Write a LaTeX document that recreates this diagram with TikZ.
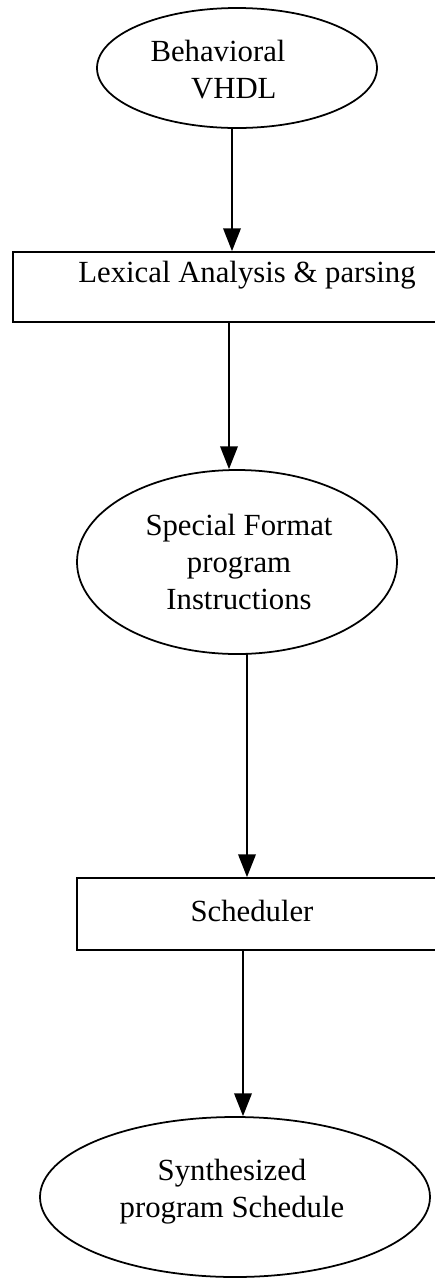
\documentclass[tikz,border=0pt]{standalone}
\usepackage{fontspec}
\setmainfont{Liberation Serif}
\usetikzlibrary{arrows.meta, shapes.geometric}

\tikzset{
  oval/.style={draw, line width=1pt, ellipse, inner sep=0pt},
  stagebox/.style={draw, line width=1pt, rectangle, inner sep=0pt},
  words/.style={align=center, inner sep=0pt},
  flow/.style={-{Triangle[length=13pt,width=10pt]}, line width=1pt}
}

\begin{document}
\begin{tikzpicture}[x=0.02cm, y=-0.02cm, font=\fontsize{17.5}{21}\selectfont]
  \clip (0,0) rectangle (435,1282);
  % ovals
  \node[oval, minimum width=280*0.02cm, minimum height=120*0.02cm] (vhdl) at (237,68) {};
  \node[words] (vhdltxt) at (218,70) {Behavioral\\\hspace*{18pt}VHDL};
  \node[oval, minimum width=320*0.02cm, minimum height=184*0.02cm] (special) at (237,562) {};
  \node[words] (specialtxt) at (239,562) {Special Format\\program\\Instructions};
  \node[oval, minimum width=390*0.02cm, minimum height=160*0.02cm] (synth) at (235,1197) {};
  \node[words] (synthtxt) at (232,1192) {Synthesized\\program Schedule};
  % boxes
  \node[stagebox, minimum width=440*0.02cm, minimum height=70*0.02cm] (lexbox) at (233,287) {};
  \node[words] (lextxt) at (247,275) {Lexical Analysis \& parsing};
  \node[stagebox, minimum width=380*0.02cm, minimum height=72*0.02cm] (schedbox) at (267,914) {};
  \node[words] (schedtxt) at (252,911) {Scheduler};
  % arrows
  \coordinate (a1) at (232,128);
  \draw[flow] (a1) -- (lexbox.north -| a1);
  \coordinate (a2) at (229,322);
  \draw[flow] (a2) -- (special.north -| a2);
  \coordinate (a3) at (247,654);
  \draw[flow] (a3) -- (schedbox.north -| a3);
  \coordinate (a4) at (243,950);
  \draw[flow] (a4) -- (synth.north -| a4);
\end{tikzpicture}
\end{document}
